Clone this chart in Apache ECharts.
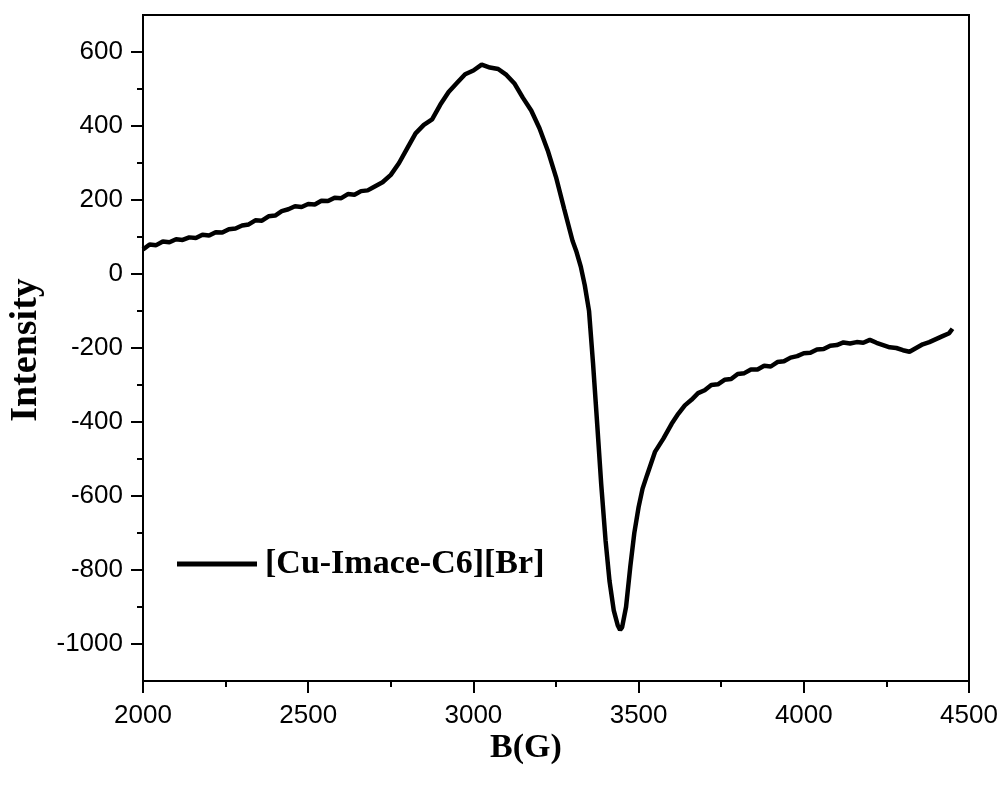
<!DOCTYPE html>
<html>
<head>
<meta charset="utf-8">
<script src="https://cdn.jsdelivr.net/npm/echarts@6/dist/echarts.min.js"></script>
<style>
html,body{margin:0;padding:0;background:#fff;}
#chart{width:1004px;height:790px;}
</style>
</head>
<body>
<div id="chart"></div>
<script>
// ---- data ----
var seriesName = '[Cu-Imace-C6][Br]';
var fieldG = [2000,2020,2040,2060,2080,2100,2120,2140,2160,2180,2200,2220,2240,2260,2280,2300,2320,2340,2360,2380,
  2400,2420,2440,2460,2480,2500,2520,2540,2560,2580,2600,2620,2640,2660,2680,2700,
  2725,2750,2775,2800,2825,2850,2875,2900,2925,2950,2975,3000,3025,3050,3075,3100,3125,3150,3175,3200,
  3225,3250,3275,3300,3312,3325,3337,3350,3362,3375,3387,3400,3412,3425,3437,3444,3450,3462,3475,3487,
  3500,3512,3525,3550,3575,
  3600,3620,3640,3660,3680,3700,3720,3740,3760,3780,3800,3820,3840,3860,3880,3900,3920,3940,3960,3980,
  4000,4020,4040,4060,4080,4100,4120,4140,4160,4180,4200,4220,4240,4260,4280,4300,4320,4340,4360,4380,
  4400,4420,4440,4450];
var intensity = [66,80,78,88,86,94,92,99,97,106,104,113,112,121,123,131,134,145,144,156,
  158,170,175,183,181,189,188,198,197,206,205,216,214,224,226,236,
  248,268,300,340,380,403,418,458,492,516,540,550,566,558,554,538,514,476,442,394,
  334,262,175,90,60,20,-30,-100,-240,-410,-570,-720,-830,-910,-950,-962,-955,-900,-790,-700,
  -630,-580,-545,-480,-445,
  -405,-378,-355,-340,-322,-314,-300,-298,-286,-284,-270,-268,-258,-258,-248,-250,-238,-236,-226,-222,
  -214,-213,-204,-203,-194,-192,-185,-188,-184,-186,-178,-186,-192,-198,-200,-206,-210,-200,-190,-184,
  -176,-168,-160,-148];
var xTicks = [2000,2500,3000,3500,4000,4500];
var yMajor = [-1000,-800,-600,-400,-200,0,200,400,600];
var yMinor = [-900,-700,-500,-300,-100,100,300,500];
var xTitle = 'B(G)';
var yTitle = 'Intensity';

var pts = fieldG.map(function(g,i){return [g,intensity[i]];});

var chart = echarts.init(document.getElementById('chart'));
var plain = function(v){return String(v);};
var labelFont = {fontFamily:'Liberation Sans, Arial, sans-serif', fontSize:26, color:'#000'};
chart.setOption({
  animation:false,
  backgroundColor:'#fff',
  grid:{left:143,right:35,top:15,bottom:109,show:true,borderColor:'#000',borderWidth:2,backgroundColor:'transparent'},
  legend:{
    left:172, top:542, icon:'rect', itemWidth:80, itemHeight:5, itemGap:10,
    data:[seriesName],
    textStyle:{fontFamily:'Liberation Serif, Times New Roman, serif',fontWeight:'bold',fontSize:34,color:'#000',padding:[0,0,0,3]}
  },
  xAxis:{
    type:'value', min:2000, max:4500, interval:500,
    axisLine:{show:true,onZero:false,lineStyle:{color:'#000',width:2}},
    axisTick:{show:true,inside:false,length:12,lineStyle:{color:'#000',width:2}},
    minorTick:{show:true,splitNumber:2,length:6,lineStyle:{color:'#000',width:2}},
    splitLine:{show:false},
    axisLabel:Object.assign({margin:22,showMinLabel:true,showMaxLabel:true,
      customValues:xTicks,formatter:plain},labelFont)
  },
  yAxis:[{
    type:'value', min:-1100, max:700,
    axisLine:{show:true,onZero:false,lineStyle:{color:'#000',width:2}},
    axisTick:{show:true,inside:false,length:12,customValues:yMajor,lineStyle:{color:'#000',width:2}},
    splitLine:{show:false},
    axisLabel:Object.assign({margin:20,customValues:yMajor,formatter:plain},labelFont)
  },{
    type:'value', min:-1100, max:700, position:'left',
    axisLine:{show:false},
    axisTick:{show:true,inside:false,length:6,customValues:yMinor,lineStyle:{color:'#000',width:2}},
    splitLine:{show:false},
    axisLabel:{show:false}
  }],
  graphic:[
    {type:'text',left:490,top:731,style:{text:xTitle,font:'bold 34px "Liberation Serif", "Times New Roman", serif',fill:'#000'}},
    {type:'text',style:{text:yTitle,font:'bold 38px "Liberation Serif", "Times New Roman", serif',fill:'#000',textAlign:'center',textVerticalAlign:'middle'},x:26,y:350,rotation:Math.PI/2}
  ],
  series:[{
    name:seriesName, type:'line', data:pts, showSymbol:false, symbol:'none',
    yAxisIndex:0, smooth:false,
    lineStyle:{color:'#000',width:4.5}, itemStyle:{color:'#000'}
  }]
});
</script>
</body>
</html>
